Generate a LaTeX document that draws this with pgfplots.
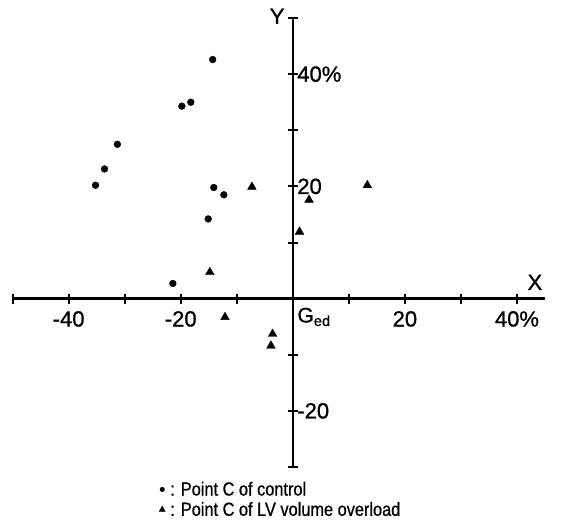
\documentclass[border=0pt]{standalone}
\usepackage{pgfplots}
\pgfplotsset{compat=1.18}
\usepackage{fontspec}
\setmainfont{Liberation Sans}
\newfontfamily\tickfont[FakeBold=0.9]{Liberation Sans}
\newfontfamily\legfont[FakeStretch=0.86, FakeBold=0.7]{Liberation Sans}
\begin{document}
\begin{tikzpicture}
\useasboundingbox (-12.6pt,-61.3pt) rectangle (552.4pt,467pt);
\begin{axis}[
  at={(0,0)}, anchor=south west,
  scale only axis, width=532.4pt, height=449pt,
  xmin=-50, xmax=45, ymin=-30, ymax=50,
  axis lines=middle,
  axis line style={line width=2.6pt, -},
  xtick={-50,-40,...,40}, ytick={-30,-20,...,50},
  xticklabels={,-40,,-20,,,,20,,40\%},
  yticklabels={,-20,,,,20,,40\%,},
  yticklabel pos=right,
  tick align=center, major tick length=10pt,
  tick style={line width=2pt, black},
  ticklabel style={font=\tickfont\fontsize{22}{24}\selectfont},
  xticklabel style={yshift=-4pt},
  yticklabel style={anchor=west, xshift=6pt},
  clip=false,
  legend style={draw=none, fill=none, at={(0.275,-0.028)}, anchor=north west,
    font=\legfont\fontsize{19}{21}\selectfont, row sep=1pt, inner sep=0pt},
  legend cell align=left,
]
\addplot[only marks, mark=*, mark size=3.4pt, black, legend image post style={mark size=2.3pt}] coordinates {
(-14.3,42.6) (-19.8,34.3) (-18.2,35.0) (-31.3,27.5) (-33.6,23.1)
(-35.2,20.2) (-14.1,19.8) (-12.3,18.5) (-15.1,14.2) (-21.4,2.7)
};
\addlegendentry{\hspace{3pt}: Point C of control}
\addplot[only marks, mark=triangle*, mark size=5pt, black, legend image post style={mark size=3.5pt}] coordinates {
(-7.3,19.9) (-14.8,4.7) (2.9,17.6) (1.2,11.9) (-12.1,-3.3)
(-3.6,-6.3) (-3.9,-8.4) (13.3,20.2)
};
\addlegendentry{\hspace{3pt}: Point C of LV volume overload}
\node[font=\tickfont\fontsize{22}{24}\selectfont] at (axis cs:43.2,2.9) {X};
\node[font=\tickfont\fontsize{22}{24}\selectfont] at (axis cs:-2.8,50.3) {Y};
\node[anchor=north west, font=\tickfont\fontsize{21}{24}\selectfont, inner sep=0pt] at (axis cs:0.8,-1.6) {G\textsubscript{ed}};
\end{axis}
\end{tikzpicture}
\end{document}
